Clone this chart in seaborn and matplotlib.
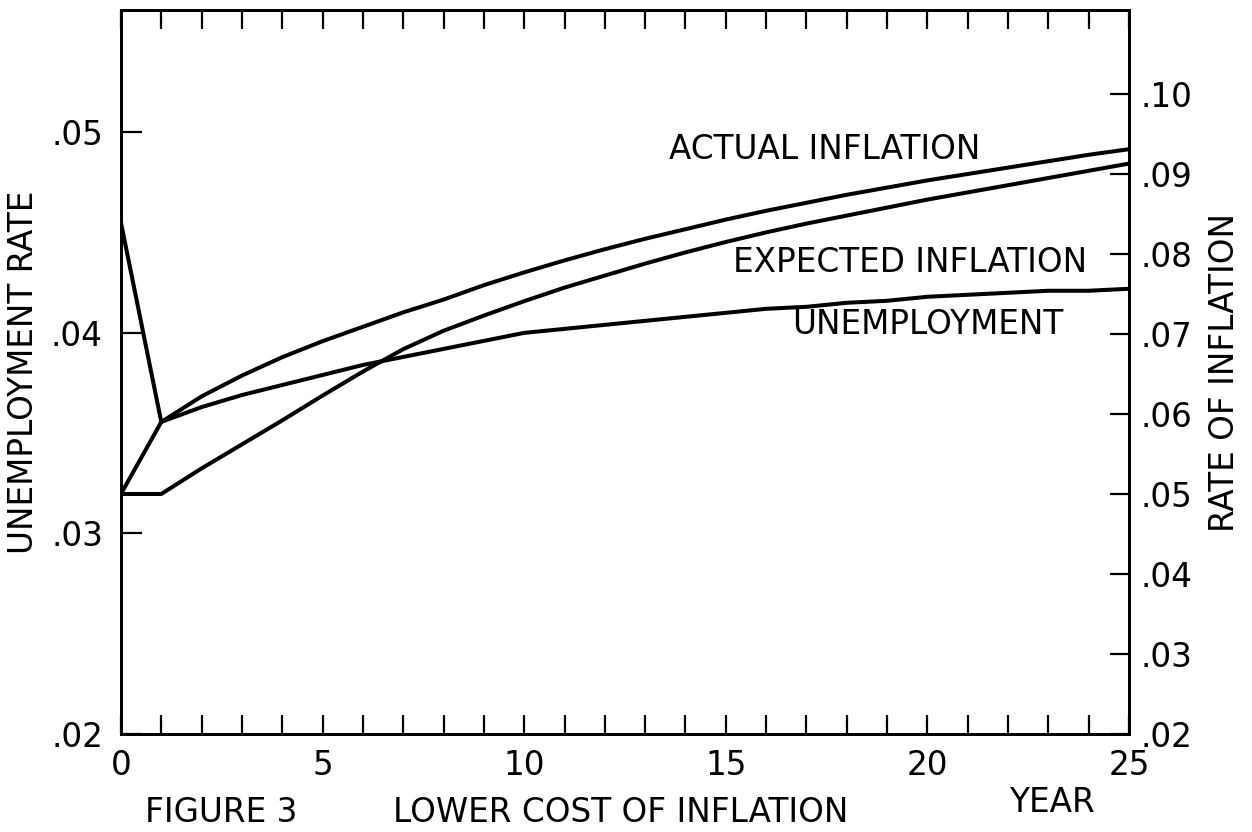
import numpy as np
import pandas as pd
import seaborn as sns
import matplotlib.pyplot as plt
from matplotlib.ticker import FuncFormatter, MultipleLocator

# data (years 0..25)
years = list(range(26))
unemployment = [0.0455, 0.03556, 0.0363, 0.0369, 0.0374, 0.0379, 0.0384, 0.0388,
                0.0392, 0.0396, 0.0400, 0.0402, 0.0404, 0.0406, 0.0408, 0.0410,
                0.0412, 0.0413, 0.0415, 0.0416, 0.0418, 0.0419, 0.0420, 0.0421,
                0.0421, 0.0422]
actual_inflation = [0.050, 0.059, 0.0622, 0.0648, 0.0671, 0.0691, 0.0709, 0.0727,
                    0.0743, 0.0761, 0.0777, 0.0792, 0.0806, 0.0819, 0.0831, 0.0843,
                    0.0854, 0.0864, 0.0874, 0.0883, 0.0892, 0.0900, 0.0908, 0.0916,
                    0.0924, 0.0931]
expected_inflation = [0.050, 0.050, 0.0532, 0.0562, 0.0592, 0.0623, 0.0653, 0.0681,
                      0.0704, 0.0723, 0.0741, 0.0758, 0.0773, 0.0788, 0.0802, 0.0815,
                      0.0827, 0.0838, 0.0848, 0.0858, 0.0868, 0.0877, 0.0886, 0.0895,
                      0.0904, 0.0913]

left_ticks = [0.02, 0.03, 0.04, 0.05]
right_ticks = [0.02, 0.03, 0.04, 0.05, 0.06, 0.07, 0.08, 0.09, 0.10]

df = pd.DataFrame({"Year": years, "Unemployment": unemployment,
                   "Actual": actual_inflation, "Expected": expected_inflation})

sns.set_style("white")
plt.rcParams["font.family"] = ["DejaVu Sans"]
plt.rcParams["text.color"] = "black"
plt.rcParams["axes.labelcolor"] = "black"
plt.rcParams["xtick.color"] = "black"
plt.rcParams["ytick.color"] = "black"

fs = 23.5

fig = plt.figure(figsize=(12.52, 8.32), dpi=100)
ax = fig.add_axes([0.0966, 0.1178, 0.8052, 0.8702])
ax2 = ax.twinx()

lw = 2.9
sns.lineplot(data=df, x="Year", y="Unemployment", ax=ax, color="black", lw=lw)
sns.lineplot(data=df, x="Year", y="Actual", ax=ax2, color="black", lw=lw)
sns.lineplot(data=df, x="Year", y="Expected", ax=ax2, color="black", lw=lw)

ax.set_xlim(0, 25)
ax.set_ylim(0.02, 0.0561)
ax2.set_ylim(0.02, 0.1105)

fmt = FuncFormatter(lambda v, p: f"{v:.2f}".lstrip("0"))
ax.set_yticks(left_ticks)
ax.yaxis.set_major_formatter(fmt)
ax2.set_yticks(right_ticks)
ax2.yaxis.set_major_formatter(fmt)
ax.xaxis.set_major_locator(MultipleLocator(5))
ax.xaxis.set_minor_locator(MultipleLocator(1))

for a in (ax, ax2):
    for s in a.spines.values():
        s.set_linewidth(2.0)
        s.set_color("black")

ax.tick_params(axis="x", which="both", direction="in", top=True, bottom=True,
               length=14, width=1.6, labelsize=fs, pad=11)
ax.tick_params(axis="y", which="major", direction="in", left=True, length=15,
               width=1.6, labelsize=fs, pad=13)
ax2.tick_params(axis="y", which="major", direction="in", right=True, length=14,
                width=1.6, labelsize=fs, pad=8)

ax.set_xlabel("")
ax.set_ylabel("")
ax2.set_ylabel("")
fig.text(24 / 1252, 1 - 372 / 832, "UNEMPLOYMENT RATE", fontsize=fs,
         rotation=90, ha="center", va="center")
fig.text(1224 / 1252, 1 - 372 / 832, "RATE OF INFLATION", fontsize=fs,
         rotation=90, ha="center", va="center")

# curve labels
ax2.text(13.6, 0.093, "ACTUAL INFLATION", fontsize=fs, va="center", ha="left")
ax2.text(15.18, 0.0789, "EXPECTED INFLATION", fontsize=fs, va="center", ha="left")
ax.text(16.64, 0.0404, "UNEMPLOYMENT", fontsize=fs, va="center", ha="left")

fig.text(0.177, 0.024, "FIGURE 3", fontsize=fs, ha="center", va="center")
fig.text(0.496, 0.024, "LOWER COST OF INFLATION", fontsize=fs, ha="center", va="center")
fig.text(0.840, 0.035, "YEAR", fontsize=fs, ha="center", va="center")

plt.savefig("out.png", dpi=100)
